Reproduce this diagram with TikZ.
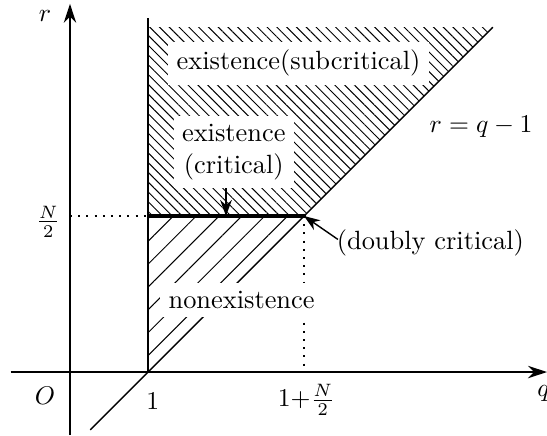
\documentclass[tikz,border=0pt]{standalone}
\usetikzlibrary{arrows.meta,patterns.meta,calc}
\tikzset{
  axis/.style={-{Stealth[length=2.6mm,width=1.7mm]}, line width=0.55pt},
  bound/.style={line width=0.55pt},
  guide/.style={dash pattern=on 0.8pt off 2.4pt, line width=0.8pt},
  critline/.style={line width=1.7pt},
  pointer/.style={-{Stealth[length=2.2mm,width=1.6mm]}, line width=0.55pt},
  sublines/.style={pattern={Lines[angle=-45, distance=2.7pt, line width=0.38pt]}},
  nonlines/.style={pattern={Lines[angle=45, distance=6.3pt, line width=0.4pt]}},
  region/.style={fill=white, inner sep=3.2pt, align=center},
  ticklbl/.style={inner sep=1pt}
}
\begin{document}
\begin{tikzpicture}[x=1.07cm, y=1.07cm, font=\fontsize{10.3}{12.3}\selectfont]
  \useasboundingbox (-0.897,-0.808) rectangle (6.115,4.769);

  % Key points.
  \coordinate (orig) at (0,0);
  \coordinate (one) at (1,0);
  \coordinate (onehalf) at (1,2);
  \coordinate (dbl) at (3,2);
  \coordinate (dblfoot) at (3,0);
  \coordinate (halfaxis) at (0,2);
  \coordinate (critpt) at (2,2);
  \coordinate (diagtop) at (5.42,4.42);
  \coordinate (diaglow) at (0.26,-0.74);

  % Hatched regions.
  \path[sublines] (onehalf) -- (1,4.42) -- (diagtop) -- (dbl) -- cycle;
  \path[nonlines] (one) -- (onehalf) -- (dbl) -- cycle;

  % Axes.
  \draw[axis] (-0.76,0) -- (6.115,0);
  \draw[axis] (0,-0.81) -- (0,4.72);

  % Boundaries and guides.
  \draw[bound] (one) -- (1,4.54);
  \draw[bound] (diaglow) -- (diagtop);
  \draw[guide] (halfaxis) -- (onehalf);
  \draw[guide] (dbl) -- (dblfoot);
  \draw[critline] (onehalf) -- (dbl);
  \fill (dbl) circle (0.028);

  % Axis labels.
  \node[ticklbl] (rlab) at (-0.32,4.57) {$r$};
  \node[ticklbl] (qlab) at (6.07,-0.27) {$q$};
  \node[ticklbl] (olab) at (-0.32,-0.3) {$O$};
  \node[ticklbl] (onelab) at (1.06,-0.38) {$1$};
  \node[ticklbl] (dbllab) at (3.03,-0.36) {$1{+}\frac{N}{2}$};
  \node[ticklbl] (halflab) at (-0.28,1.93) {$\frac{N}{2}$};

  % Region labels.
  \node[region] (subcrit) at (2.93,3.96) {existence(subcritical)};
  \node[region] (crit) at (2.1,2.82) {existence\\(critical)};
  \node[region] (nonex) at (2.2,0.92) {nonexistence};
  \node[ticklbl] (diaglab) at (5.27,3.14) {$r=q-1$};
  \node[inner sep=0pt] (doubly) at (4.62,1.65) {(doubly critical)};

  % Pointers.
  \draw[pointer] (crit.south -| critpt) -- (critpt);
  \draw[pointer] ($(doubly.west)+(0.02,0.05)$) -- (dbl);
\end{tikzpicture}
\end{document}
